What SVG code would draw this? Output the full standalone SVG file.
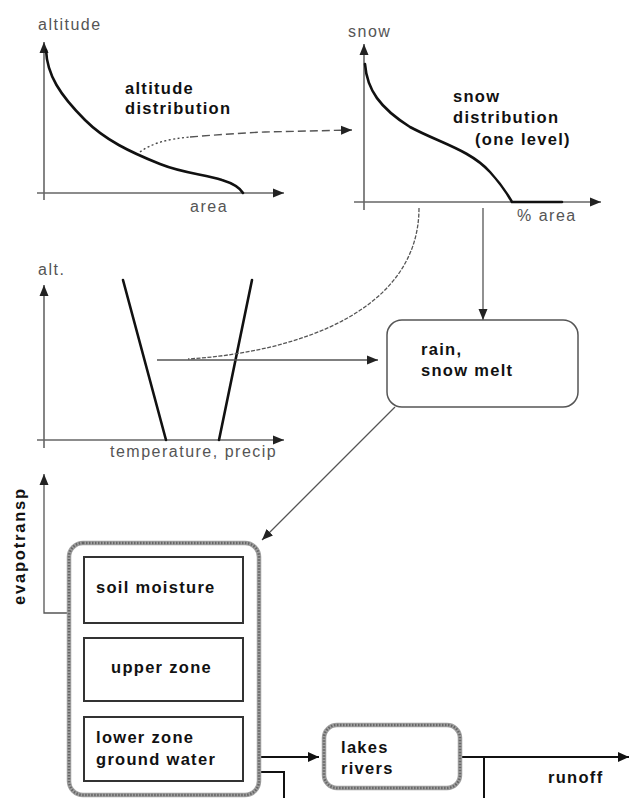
<svg xmlns="http://www.w3.org/2000/svg" width="630" height="798" viewBox="0 0 630 798">
<style>
.lbl{font-family:"Liberation Sans",Arial,sans-serif;font-size:16px;fill:#555;letter-spacing:1.5px}
.bold{font-family:"Liberation Sans",Arial,sans-serif;font-size:16.5px;font-weight:bold;fill:#111;letter-spacing:1.3px}
.axis{stroke:#666;stroke-width:1.6;fill:none}
.curve{stroke:#111;stroke-width:2.6;fill:none;stroke-linecap:round}
.thin{stroke:#555;stroke-width:1.3;fill:none}
.heavy{stroke:#111;stroke-width:2;fill:none}
.box{fill:#fff;stroke:#333;stroke-width:2}
.wavy{fill:#fff;stroke:#a0a0a0;stroke-width:4.5}
.wavy2{fill:none;stroke:#666;stroke-width:2.5;stroke-dasharray:1.5 1.5}
</style>
<defs>
<marker id="ah" markerUnits="userSpaceOnUse" markerWidth="12" markerHeight="10" refX="11" refY="5" orient="auto"><path d="M0,0 L11,5 L0,10 Z" fill="#111"/></marker>
<marker id="ahs" markerUnits="userSpaceOnUse" markerWidth="12" markerHeight="10" refX="11" refY="5" orient="auto"><path d="M0,0.5 L11,5 L0,9.5 Z" fill="#222"/></marker>
</defs>

<g id="altitude-plot">
<line class="axis" x1="44" y1="200" x2="44" y2="42" marker-end="url(#ahs)"/>
<line class="axis" x1="37" y1="193" x2="284" y2="193" marker-end="url(#ahs)"/>
<path class="curve" d="M46,50 C47,75 60,95 85,120 C105,140 130,152 160,164 C185,174 205,174 222,180 C235,184 240,188 243,193"/>
<text class="lbl" x="38" y="30">altitude</text>
<text class="lbl" x="190" y="212">area</text>
<text class="bold" x="125" y="94">altitude</text>
<text class="bold" x="125" y="114">distribution</text>
</g>

<g id="snow-plot">
<line class="axis" x1="364" y1="210" x2="364" y2="44" marker-end="url(#ahs)"/>
<line class="axis" x1="354" y1="202" x2="601" y2="202" marker-end="url(#ahs)"/>
<path class="curve" d="M365,64 C367,90 380,108 410,127 C440,143 470,150 490,172 C502,185 508,195 512,202 L562,202"/>
<text class="lbl" x="348" y="37">snow</text>
<text class="lbl" x="517" y="221">% area</text>
<text class="bold" x="453" y="102">snow</text>
<text class="bold" x="453" y="123">distribution</text>
<text class="bold" x="475" y="145">(one level)</text>
</g>

<g id="temperature-plot">
<line class="axis" x1="44" y1="448" x2="44" y2="285" marker-end="url(#ahs)"/>
<line class="axis" x1="37" y1="440" x2="284" y2="440" marker-end="url(#ahs)"/>
<line class="curve" x1="123" y1="280" x2="166" y2="440"/>
<line class="curve" x1="252" y1="280" x2="219" y2="440"/>
<text class="lbl" x="38" y="275">alt.</text>
<text class="lbl" x="110" y="457">temperature, precip</text>
</g>

<g id="connectors">
<path d="M140,152 C152,143 168,139 190,137" stroke="#444" stroke-width="1.4" fill="none" stroke-dasharray="2 2.5"/>
<path d="M190,137 C215,135 240,133 265,132 L352,130" stroke="#555" stroke-width="1.4" fill="none" stroke-dasharray="8 4" marker-end="url(#ahs)"/>
<line class="thin" x1="483" y1="208" x2="483" y2="320" marker-end="url(#ahs)"/>
<path d="M419,208 C419,310 300,352 188,359" stroke="#555" stroke-width="1.3" fill="none" stroke-dasharray="4 1.5"/>
<line class="thin" x1="157" y1="360" x2="378" y2="360" marker-end="url(#ahs)"/>
<line class="thin" x1="395" y1="407" x2="262" y2="540" marker-end="url(#ahs)"/>
<polyline class="thin" points="68,613 44,613 44,474" marker-end="url(#ahs)"/>
<line class="heavy" x1="261" y1="757" x2="319" y2="757" marker-end="url(#ah)"/>
<polyline class="heavy" points="261,772 284,772 284,798"/>
<line class="heavy" x1="460" y1="757" x2="629" y2="757" marker-end="url(#ah)"/>
<line class="heavy" x1="484" y1="757" x2="484" y2="798"/>
</g>

<g id="rain-snow-melt">
<rect x="387" y="320" width="191" height="87" rx="15" fill="#fff" stroke="#555" stroke-width="1.5"/>
<text class="bold" x="421" y="355">rain,</text>
<text class="bold" x="421" y="376">snow melt</text>
</g>

<g id="evapotransp-label">
<text class="bold" transform="translate(25,546) rotate(-90)" text-anchor="middle" style="letter-spacing:1.8px">evapotransp</text>
</g>

<g id="soil-zones">
<rect class="wavy" x="69" y="543" width="190" height="252" rx="14"/>
<rect class="wavy2" x="69" y="543" width="190" height="252" rx="14"/>
</g>

<g id="soil-moisture">
<rect class="box" x="84" y="557" width="159" height="66"/>
<text class="bold" x="96" y="593">soil moisture</text>
</g>

<g id="upper-zone">
<rect class="box" x="84" y="638" width="159" height="63"/>
<text class="bold" x="111" y="673">upper zone</text>
</g>

<g id="lower-zone">
<rect class="box" x="84" y="717" width="159" height="64"/>
<text class="bold" x="96" y="743">lower zone</text>
<text class="bold" x="96" y="765">ground water</text>
</g>

<g id="lakes-rivers">
<rect class="wavy" x="324" y="725" width="136" height="63" rx="13"/>
<rect class="wavy2" x="324" y="725" width="136" height="63" rx="13"/>
<text class="bold" x="341" y="753">lakes</text>
<text class="bold" x="341" y="774">rivers</text>
</g>

<g id="runoff-label">
<text class="bold" x="548" y="783">runoff</text>
</g>
</svg>
